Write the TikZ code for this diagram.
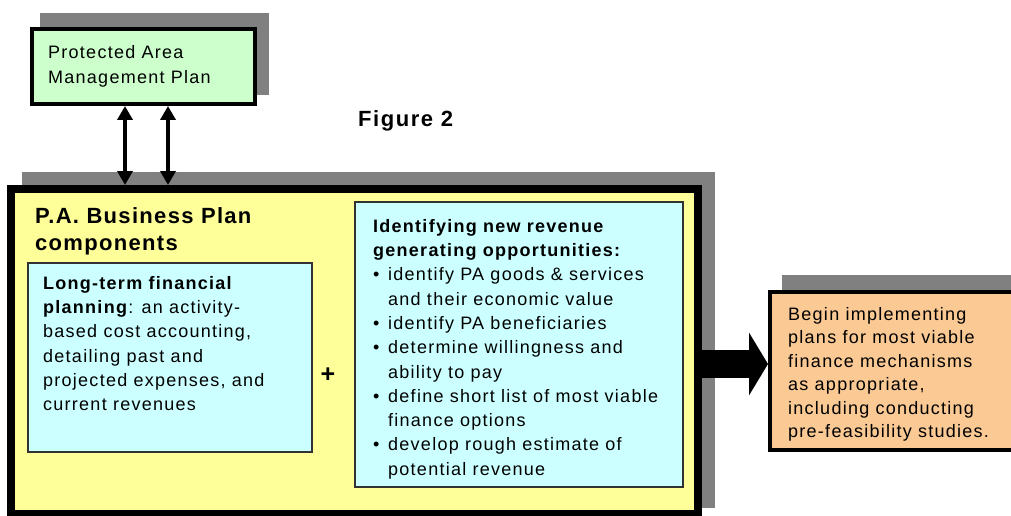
\documentclass[tikz,border=0pt]{standalone}
\usepackage{fontspec}
\setmainfont{Liberation Sans}[LetterSpace=7.0]
\usetikzlibrary{arrows.meta}
\definecolor{shadowgray}{RGB}{128,128,128}
\definecolor{pagreen}{RGB}{204,255,204}
\definecolor{payellow}{RGB}{255,255,153}
\definecolor{pablue}{RGB}{204,255,255}
\definecolor{paorange}{RGB}{250,201,148}
\definecolor{blueedge}{RGB}{50,50,50}
\newcommand{\bodyfont}{\fontsize{18}{24.3}\selectfont}
\newcommand{\bul}{\makebox[15pt][l]{•}}
\newcommand{\ind}{\hspace*{15pt}}
\tikzset{
  shadowbox/.style={fill=shadowgray, draw=none},
  boxbase/.style={rectangle, inner sep=0pt, draw=black},
  greenbox/.style={boxbase, line width=4pt, fill=pagreen, minimum width=223pt, minimum height=75pt},
  yellowbox/.style={boxbase, line width=8pt, fill=payellow, minimum width=687pt, minimum height=325pt},
  bluebox/.style={boxbase, draw=blueedge, line width=1.3pt, fill=pablue},
  orangebox/.style={boxbase, line width=4pt, fill=paorange, minimum width=270pt, minimum height=158pt},
  txt/.style={anchor=north west, align=left, inner sep=0pt, font=\bodyfont},
  linkarrow/.style={line width=4.5pt, {Triangle[width=15pt,length=14pt]}-{Triangle[width=15pt,length=14pt]}},
  bigarrow/.style={line width=28pt, -{Triangle[width=62pt,length=19pt]}}
}
\begin{document}
\begin{tikzpicture}[x=1pt,y=-1pt]
\useasboundingbox (0,0) rectangle (1011,516);
\fill[white] (0,0) rectangle (1011,516);
\begin{scope}
\clip (0,0) rectangle (1011,516);
% shadows
\fill[shadowbox] (40,13) rectangle (269,95);
\fill[shadowbox] (22,172) rectangle (715,508);
\fill[shadowbox] (782,275) rectangle (1040,440);
% boxes
\node[greenbox] (green) at (143.5,66.5) {};
\node[yellowbox] (yellow) at (354.5,351.5) {};
\node[bluebox, minimum width=284pt, minimum height=189pt] (lblue) at (170,357.5) {};
\node[bluebox, minimum width=328pt, minimum height=285pt] (rblue) at (519,344.5) {};
\node[orangebox] (orange) at (905,371) {};
% connectors
\coordinate (ax1) at (125,0);
\coordinate (ax2) at (168,0);
\coordinate (ay) at (0,364);
\draw[linkarrow] (green.south -| ax1) -- (yellow.north -| ax1);
\draw[linkarrow] (green.south -| ax2) -- (yellow.north -| ax2);
\draw[bigarrow] (yellow.east |- ay) -- (orange.west |- ay);
% texts
\node[txt, font=\fontsize{18}{25}\selectfont] (gtext) at (48,40.5) {\strut Protected Area\\Management Plan};
\node[anchor=base west, inner sep=0pt, font=\fontsize{22}{26}\selectfont\bfseries] (fig) at (358,126) {Figure 2};
\node[txt, font=\fontsize{22}{27}\selectfont\bfseries\addfontfeatures{LetterSpace=6.0}] (ptitle) at (35,204.1) {\strut P.A. Business Plan\\components};
\node[txt] (ltext) at (43,272) {\strut\textbf{Long-term financial}\\
\textbf{planning}: an activity-\\
based cost accounting,\\
detailing past and\\
projected expenses, and\\
current revenues};
\node[font=\fontsize{25}{28}\selectfont\bfseries, inner sep=0pt] (plus) at (328,375) {+};
\node[txt] (rtext) at (373,215) {\strut\textbf{Identifying new revenue}\\
\textbf{generating opportunities:}\\
\bul identify PA goods \& services\\
\ind and their economic value\\
\bul identify PA beneficiaries\\
\bul determine willingness and\\
\ind ability to pay\\
\bul define short list of most viable\\
\ind finance options\\
\bul develop rough estimate of\\
\ind potential revenue};
\node[txt, font=\fontsize{18}{23.5}\selectfont] (otext) at (788,303.5) {\strut Begin implementing\\
plans for most viable\\
finance mechanisms\\
as appropriate,\\
including conducting\\
pre-feasibility studies.};
\end{scope}
\end{tikzpicture}
\end{document}
